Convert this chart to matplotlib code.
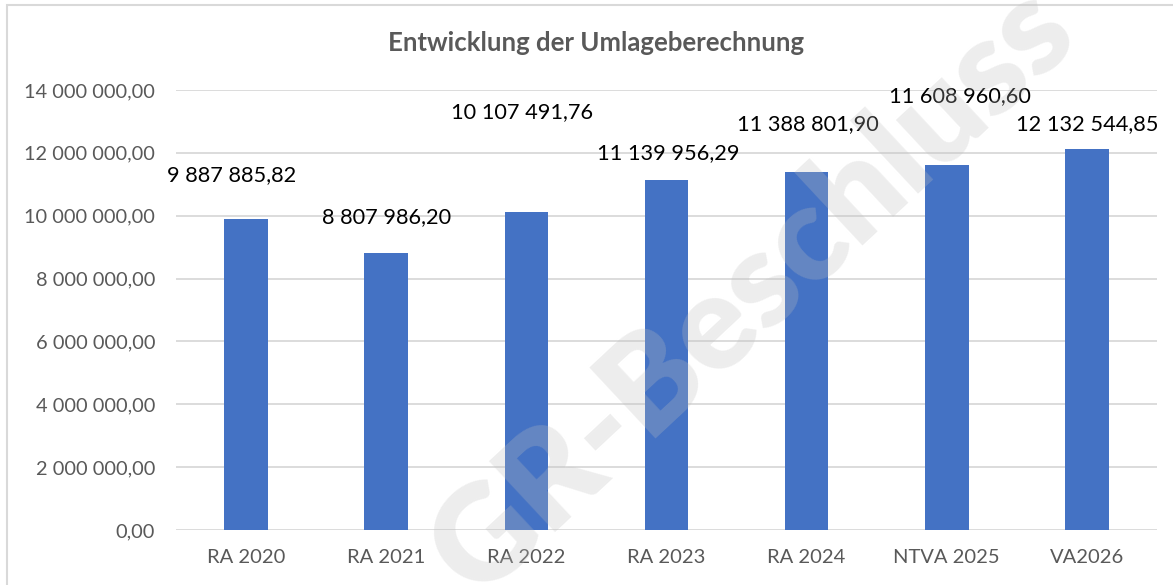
import matplotlib
matplotlib.use("Agg")
import matplotlib.pyplot as plt
from matplotlib.patches import Rectangle
from matplotlib.ticker import FuncFormatter

categories = ["RA 2020", "RA 2021", "RA 2022", "RA 2023", "RA 2024", "NTVA 2025", "VA2026"]
values = [9887885.82, 8807986.20, 10107491.76, 11139956.29, 11388801.90, 11608960.60, 12132544.85]

# manual label offsets (pixels from bar top), as placed in the original
label_dx = [-14, 0, -4, 2, 1, 13, 0]
label_dy = [44, 36, 100, 27, 48, 69, 25]

blue = "#4472C4"
grey_text = "#595959"
grid_col = "#D9D9D9"

plt.rcParams["font.family"] = ["Lato", "DejaVu Sans"]


def de_fmt(v, pos=None):
    s = f"{v:,.2f}"
    return s.replace(",", " ").replace(".", ",")


fig = plt.figure(figsize=(11.73, 5.85), dpi=100)
ax = fig.add_axes([176 / 1173, 55 / 585, (1157 - 176) / 1173, (530 - 90) / 585])

x = range(len(categories))
ax.bar(x, values, width=0.31, color=blue, zorder=2)
ax.set_xlim(-0.5, len(categories) - 0.5)
ax.set_ylim(0, 14000000)
ax.set_yticks(range(0, 14000001, 2000000))
ax.yaxis.set_major_formatter(FuncFormatter(de_fmt))
ax.set_xticks(list(x))
ax.set_xticklabels(categories)
ax.grid(axis="y", color=grid_col, linewidth=1.3, zorder=0)
for s in ax.spines.values():
    s.set_visible(False)
ax.tick_params(axis="both", length=0, colors=grey_text)
ax.tick_params(axis="y", pad=15, labelsize=14.4)
ax.tick_params(axis="x", pad=14, labelsize=14.5)

for i, v in enumerate(values):
    ax.annotate(de_fmt(v), xy=(i, v), xytext=(label_dx[i], label_dy[i]),
                textcoords="offset pixels", ha="center", va="center",
                fontsize=15.7, color="black", zorder=3)

fig.text(596 / 1173, 1 - 43 / 585, "Entwicklung der Umlageberechnung",
         ha="center", va="center", fontsize=18.5, fontweight="bold", color=grey_text)

# chart frame
fig.patches.append(Rectangle((7 / 1173, -0.05), 1.1, 1 - 5 / 585 + 0.05,
                             transform=fig.transFigure, fill=False,
                             edgecolor="#D9D9D9", linewidth=1.5))

# watermark (runs off the edges, as in the original)
fig.text(752 / 1173, 1 - 292 / 585, "GR-Beschluss", rotation=43,
         ha="center", va="center", fontsize=96, fontweight="heavy",
         color=(0.75, 0.75, 0.75), alpha=0.27, zorder=10)

fig.savefig("out.png", dpi=100)
